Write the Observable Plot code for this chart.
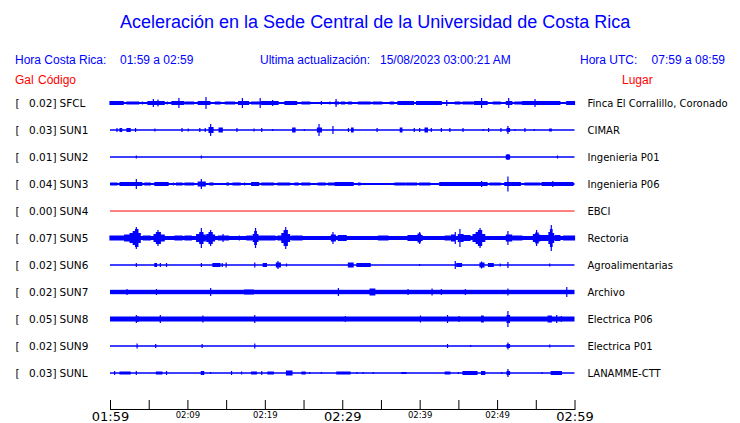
<!DOCTYPE html>
<html>
<head>
<meta charset="utf-8">
<script src="https://cdn.jsdelivr.net/npm/d3@7"></script>
<script src="https://cdn.jsdelivr.net/npm/@observablehq/plot@0.6"></script>
<style>
  html, body { margin: 0; padding: 0; background: #fff; }
  #wrap { position: relative; width: 740px; height: 423px; overflow: hidden; }
  .hd { position: absolute; font-family: "Liberation Sans", Arial, sans-serif; white-space: pre; line-height: 1; }
  .blue { color: #0000ff; }
  .red { color: #ff0000; }
</style>
</head>
<body>
<div id="wrap">
  <div class="hd blue" style="left:120px; top:13px; font-size:18px;">Aceleración en la Sede Central de la Universidad de Costa Rica</div>
  <div class="hd blue" style="left:15px; top:54px; font-size:12px;">Hora Costa Rica:</div>
  <div class="hd blue" style="left:120px; top:54px; font-size:12px;">01:59 a 02:59</div>
  <div class="hd blue" style="left:260px; top:54px; font-size:12px;">Ultima actualización:</div>
  <div class="hd blue" style="left:380px; top:54px; font-size:12px;">15/08/2023 03:00:21 AM</div>
  <div class="hd blue" style="left:580px; top:54px; font-size:12px;">Hora UTC:</div>
  <div class="hd blue" style="right:15px; top:54px; font-size:12px;">07:59 a 08:59</div>
  <div class="hd red" style="left:15px; top:74px; font-size:12px;">Gal</div>
  <div class="hd red" style="left:38px; top:74px; font-size:12px;">Código</div>
  <div class="hd red" style="left:622px; top:74px; font-size:12px;">Lugar</div>
  <div id="chart" style="position:absolute; left:0; top:0;"></div>
</div>
<script>
// ---- data ----
const startTime = "01:59";
const endTime = "02:59";
const codes = ["SFCL","SUN1","SUN2","SUN3","SUN4","SUN5","SUN6","SUN7","SUN8","SUN9","SUNL"];
const peakGal = ["0.02","0.03","0.01","0.04","0.00","0.07","0.02","0.02","0.05","0.02","0.03"];
const places = ["Finca El Corralillo, Coronado","CIMAR","Ingenieria P01","Ingenieria P06","EBCI","Rectoria","Agroalimentarias","Archivo","Electrica P06","Electrica P01","LANAMME-CTT"];
// background noise half-amplitude (relative units) per station
const noise = [1, 0.75, 0.75, 1, 0.5, 2, 0.75, 2.2, 2.5, 0.75, 0.75];
// bursts: [minute start, minute end, half-amplitude] (minutes after 01:59)
const sfcl = [[0,1.7,2],[2.2,3.7,1.5],[4.2,4.2,1.5],[4.9,7.0,2],[5.6,5.6,4],[6.2,6.2,3.5],[7.4,7.4,1.5],[8.0,9.5,2],[8.9,8.9,5],[9.7,10.8,1.5],[11.4,12.9,2],[12.4,12.4,6],[13.6,14.2,1.5],[14.9,16.1,1.5],[16.6,17.9,2],[17.1,17.1,5],[18.3,19.6,1.5],[19.4,19.4,5],[19.6,21.7,2],[21,21,3],[22.6,24.1,2],[24.8,25.8,1.5],[27.3,27.3,2],[28.4,28.4,1.5],[29.1,29.5,1.5],[29.2,29.2,4],[29.9,30.3,1.5],[30.8,31.2,1.5],[32.1,33.6,1.5],[34,35.1,1.5],[36.2,36.6,1.5],[37.2,39.2,2],[39.6,42.8,2],[43.5,43.5,3],[44.6,45.2,1.5],[45.6,46.9,1.5],[47.1,48.7,2],[48,48,5],[49.5,50.4,1.5],[51.2,51.9,2],[51.5,51.5,5],[52.3,53.2,1.5],[53.3,58.1,2],[54.9,54.9,4],[59,60,2]];
const sun1 = [[0.9,0.9,2],[1.3,1.5,2],[2.2,2.6,2],[3.3,3.3,2],[5.8,5.8,1.5],[9.3,9.3,2],[10.1,10.1,1.5],[11.6,11.6,2],[12.3,12.3,2],[12.8,13.3,3],[13.0,13.0,6],[14.1,14.5,2.5],[16.4,16.4,2],[18.6,18.6,1.5],[19.6,19.6,2],[21,21,1],[23.6,23.9,2.5],[25.1,25.1,1],[26.8,27.3,2.5],[27,27,6],[28.8,28.8,4],[30.8,30.8,2],[31.2,31.4,2.5],[34.5,34.5,2],[37.5,37.7,2.5],[39.3,39.3,2],[40,40,2],[40.7,41,2.5],[41.5,41.5,2],[42.8,42.8,2],[43.9,43.9,2],[45.6,45.6,2],[48.2,48.2,1],[48.9,48.9,2],[50.5,50.5,2],[51.3,51.6,2],[51.4,51.4,4],[52.3,52.3,1],[53.6,53.6,2],[54.8,54.8,1],[56.8,57,1.5]];
const sun2 = [[3.4,3.4,1.5],[11.8,11.8,1.5],[51.2,51.6,2.5],[51.4,51.4,3],[57.8,57.8,1.5]];
const sun3 = [[0.1,0.9,1.5],[1.3,4.1,2],[3.4,3.4,5],[4.5,5.2,1.5],[5.8,7.5,2],[8.2,8.2,1.5],[8.6,9.3,1.5],[9.7,10.8,1.5],[11.4,12.3,2.5],[11.8,11.8,5],[12.9,13.3,1.5],[14.2,14.2,1],[15.1,15.3,1.5],[15.9,16.8,1.5],[17.4,17.4,1.5],[18.3,19.2,2],[19.6,21.1,1.5],[21.7,23.2,1.5],[23.9,24.3,1.5],[24.8,25.8,1.5],[26.9,27.8,1.5],[28.2,29.1,1.5],[29.1,31.4,2],[32.1,32.3,1.5],[33.9,33.9,1],[36.8,38.1,1.5],[38.3,39.6,1.5],[40,41.3,1.5],[42.6,48.7,2],[48,48,3],[49.1,50.4,1.5],[51,53,2],[51.4,51.4,7.5],[53.6,55.5,1.5],[55.8,59.8,2],[57.2,57.2,3]];
const sun4 = [];
const sun5 = [[0,1.9,2.5],[1.9,2.6,3.5],[2.6,3.0,5],[3.0,3.3,7],[3.3,3.6,9],[3.4,3.4,11],[3.6,3.9,5],[4.3,5.2,2.5],[5.7,6.0,4],[6.0,6.5,6],[6.2,6.2,8],[6.5,7.0,3.5],[8.4,9.3,2.5],[9.7,10.5,2.5],[11.2,11.6,4],[11.6,12.0,6],[11.8,11.8,10],[12.0,12.3,3.5],[12.5,12.8,4],[12.8,13.2,6],[13,13,8],[13.2,13.5,3.5],[14,15.3,2.5],[14.6,14.6,4],[16.7,16.7,2.5],[17.7,18.3,2.5],[18.5,18.7,4],[18.7,18.9,7],[18.8,18.8,10],[18.9,19.1,4],[19.2,21.3,2.5],[21.7,22.2,2.5],[22.2,22.5,5],[22.5,22.9,8],[22.7,22.7,11],[22.9,23.2,4],[23.5,24.8,2.5],[27.8,27.8,1.5],[28.6,29.1,3.5],[28.8,28.8,6],[29.5,30.5,3],[32.9,32.9,2],[34.7,35.9,2.5],[36.6,36.6,1.5],[37.4,37.4,1.5],[37.9,37.9,1.5],[38.5,40.3,3],[39.8,40.1,4.5],[40,40,6],[41,41.8,2],[42.3,42.6,2],[43.3,43.9,2.5],[44.1,44.5,3.5],[44.6,44.6,6],[45.0,45.1,4],[45.2,45.2,9],[45.3,45.6,4],[45.6,46.5,3],[46.9,47.3,4],[47.3,47.6,6],[47.6,48.0,8],[47.8,47.8,10],[48.0,48.4,4],[50.3,50.3,2],[51.2,51.9,3.5],[51.4,51.4,7],[52.1,53.2,2.5],[54.7,55.0,4],[55.0,55.3,5.5],[55.1,55.1,8],[55.3,55.5,3.5],[55.5,56.6,3],[56.7,56.9,6],[56.9,57.1,9],[57,57,13],[57.1,57.3,5],[57.5,58.1,3],[58.6,60,2.5]];
const sun6 = [[3.4,3.4,2],[5.8,6,2],[6.5,6.5,2],[7.3,7.3,2],[11.8,11.8,2],[13.3,14.2,2],[14.5,14.5,2],[15,15,2.5],[18.7,18.7,2.5],[19.8,20.2,2],[21.5,22,2.5],[21.7,21.7,4],[22.8,22.8,1.5],[30.8,31.4,2.5],[31.9,33.6,2],[40,40,1],[44.6,44.6,4],[44.8,45.4,2],[48,48,3.5],[47.8,48.3,2.5],[48.9,49.5,2],[50.4,50.4,1.5],[51.4,51.4,3],[56.8,56.8,1.5]];
const sun7 = [[2.2,2.2,3],[6,6,3],[13,13,4],[17.4,18.5,2.5],[29.5,29.5,4],[33.6,34.2,3.5],[38.5,38.5,3],[41.6,41.6,3.5],[42.8,42.8,3],[45.9,45.9,3],[51.4,51.4,3.5],[59,59,5]];
const sun8 = [[3.4,3.4,4],[3.6,3.6,3],[6.5,6.5,4],[12,12,3.5],[18.7,18.7,4],[30.4,30.4,3],[40.1,40.1,3.5],[43.6,43.6,4],[45.1,45.1,3],[48,48.2,3.5],[51.4,51.4,8],[51.3,51.6,4],[56.6,57,3.5],[57.7,57.7,4],[58.3,58.3,3]];
const sun9 = [[3.5,3.5,2.5],[5.9,5.9,2],[11.9,11.9,2],[18.7,18.7,2.5],[43.6,43.6,2],[46.6,46.6,1],[51.4,51.4,3.5],[51.3,51.6,2],[56.8,56.8,1.5]];
const sunl = [[0.6,0.6,2],[1.3,2.6,1.5],[3.4,3.4,2],[6,6.7,1.5],[7.3,7.3,2],[11.8,12.1,2],[13,13,1],[15.7,15.7,2],[17,17,1.5],[18.3,18.9,1.5],[19.6,19.6,2],[20.4,21.1,1.5],[22.8,23.5,2.5],[24.8,25.2,1.5],[25.8,25.8,1],[27.3,27.3,1],[29.3,31,1.5],[31.9,31.9,1],[32.7,32.7,1],[34,34,1],[37.7,38.2,1],[43.3,43.9,1.5],[45,45,1],[45.6,47.4,2],[48,48.4,2],[50.6,50.6,1],[51.4,51.4,4],[51.3,51.6,2],[55.8,55.8,1],[57,58.3,2]];
const tickTimes = ["01:59","02:04","02:09","02:14","02:19","02:24","02:29","02:34","02:39","02:44","02:49","02:54","02:59"];
const majorLabels = ["01:59","02:29","02:59"];
const minorLabels = ["02:09","02:19","02:39","02:49"];

// ---- build ----
const traces = [sfcl, sun1, sun2, sun3, sun4, sun5, sun6, sun7, sun8, sun9, sunl];
const rowStep = 27; // amplitude units between traces
const toMin = s => { const [h, m] = s.split(":").map(Number); return h * 60 + m; };
const t0 = toMin(startTime), tEnd = toMin(endTime);
const rel = s => toMin(s) - t0;
const BLUE = "#0000ff", RED = "#ff0000";
const stations = codes.map((code, i) => ({
  code, i, peak: peakGal[i], place: places[i], noise: noise[i],
  color: peakGal[i] === "0.00" ? RED : BLUE
}));
const bursts = traces.flatMap((arr, i) => arr.map(([a, b, amp]) => ({i, a, b, amp, color: stations[i].color})));

const chart = Plot.plot({
  width: 740,
  height: 423,
  marginLeft: 110,
  marginRight: 165.5,
  marginTop: 89.5,
  marginBottom: 14,
  style: {fontFamily: "DejaVu Sans, sans-serif", fontSize: "10px", background: "transparent"},
  x: {domain: [0, tEnd - t0], axis: null},
  y: {domain: [rowStep * 11.333, -rowStep / 2], axis: null},
  marks: [
    Plot.rect(stations, {x1: 0, x2: tEnd - t0, y1: d => d.i * rowStep - d.noise, y2: d => d.i * rowStep + d.noise, fill: d => d.color}),
    Plot.rect(bursts, {x1: "a", x2: "b", y1: d => d.i * rowStep - d.amp, y2: d => d.i * rowStep + d.amp, fill: d => d.color, insetLeft: -0.6, insetRight: -0.6}),
    Plot.text(stations, {y: d => d.i * rowStep, text: () => "[", frameAnchor: "left", dx: -95, textAnchor: "start", fontSize: 10.5}),
    Plot.text(stations, {y: d => d.i * rowStep, text: d => d.peak + "]", frameAnchor: "left", dx: -54, textAnchor: "end", fontSize: 10.5}),
    Plot.text(stations, {y: d => d.i * rowStep, text: "code", frameAnchor: "left", dx: -51, textAnchor: "start", fontSize: 10.5}),
    Plot.text(stations, {y: d => d.i * rowStep, text: "place", frameAnchor: "right", dx: 12.5, textAnchor: "start", fontSize: 10}),
    Plot.frame({anchor: "bottom", stroke: "black"}),
    Plot.ruleX(tickTimes, {x: rel, insetTop: 310.5, stroke: "black"}),
    Plot.text(majorLabels, {x: rel, text: d => d, frameAnchor: "bottom", lineAnchor: "top", dy: 2, fontSize: 13}),
    Plot.text(minorLabels, {x: rel, text: d => d, frameAnchor: "bottom", lineAnchor: "top", dy: 2, fontSize: 8.5})
  ]
});
document.getElementById("chart").appendChild(chart);
</script>
</body>
</html>
